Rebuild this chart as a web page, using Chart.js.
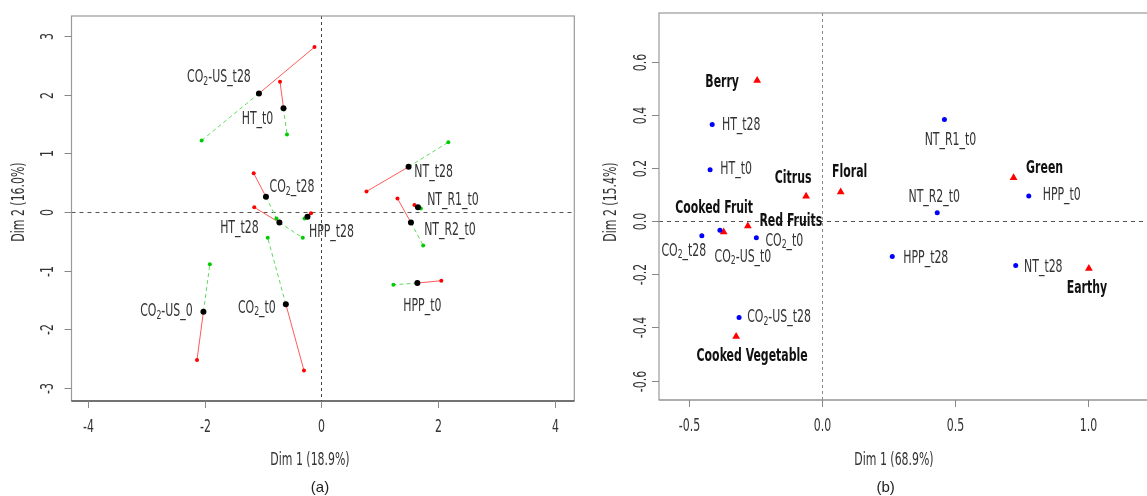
<!DOCTYPE html>
<html>
<head>
<meta charset="utf-8">
<script src="https://cdn.jsdelivr.net/npm/chart.js@4.4.1/dist/chart.umd.min.js"></script>
<style>
  html, body { margin: 0; padding: 0; background: #fff; overflow: hidden; width: 1147px; height: 496px; }
  canvas { position: absolute; top: 0; }
  #chartA { left: 0; }
  #chartB { left: 580px; }
</style>
</head>
<body>
<canvas id="chartA" width="580" height="496"></canvas>
<canvas id="chartB" width="600" height="496"></canvas>
<script>
// ---- panel (a): sample means with their two partial points ----
const samplesA = ["CO2-US_t28", "HT_t0", "NT_t28", "CO2_t28", "NT_R1_t0", "HT_t28", "HPP_t28", "NT_R2_t0", "CO2-US_0", "CO2_t0", "HPP_t0"]
const meanX = [-1.07, -0.65, 1.49, -0.95, 1.65, -0.72, -0.24, 1.53, -2.02, -0.61, 1.64]
const meanY = [2.02, 1.77, 0.77, 0.26, 0.08, -0.18, -0.08, -0.18, -1.70, -1.57, -1.21]
const redX = [-0.12, -0.71, 0.77, -1.16, 1.59, -1.15, -0.18, 1.30, -2.13, -0.30, 2.05]
const redY = [2.81, 2.22, 0.35, 0.66, 0.12, 0.08, -0.02, 0.23, -2.52, -2.70, -1.17]
const greenX = [-2.05, -0.59, 2.17, -0.77, 1.70, -0.32, -0.29, 1.74, -1.91, -0.92, 1.23]
const greenY = [1.22, 1.32, 1.19, -0.11, 0.06, -0.44, -0.11, -0.57, -0.89, -0.44, -1.24]
const xTicksA = [-4, -2, 0, 2, 4]
const yTicksA = [-3, -2, -1, 0, 1, 2, 3]

// ---- panel (b): samples and attributes ----
const samplesB = ["HT_t28", "HT_t0", "NT_R1_t0", "NT_R2_t0", "HPP_t0", "CO2_t0", "CO2-US_t0", "CO2_t28", "HPP_t28", "NT_t28", "CO2-US_t28"]
const sampleX = [-0.411, -0.419, 0.462, 0.435, 0.779, -0.245, -0.382, -0.450, 0.266, 0.730, -0.310]
const sampleY = [0.363, 0.193, 0.382, 0.031, 0.094, -0.063, -0.035, -0.055, -0.133, -0.167, -0.363]
const attributes = ["Berry", "Citrus", "Floral", "Green", "Cooked Fruit", "Red Fruits", "Earthy", "Cooked Vegetable"]
const attrX = [-0.242, -0.058, 0.072, 0.722, -0.368, -0.277, 1.005, -0.321]
const attrY = [0.529, 0.093, 0.109, 0.163, -0.041, -0.019, -0.178, -0.434]
const xTicksB = ["-0.5", "0.0", "0.5", "1.0"]
const yTicksB = ["-0.6", "-0.4", "-0.2", "0.0", "0.2", "0.4", "0.6"]

// label placement (pixel offsets from the point, text centre)
const labelOffA = [[-40, -16], [-26, 11], [25, 6], [26, -9], [35, -7], [-40, 6], [24, 16], [39, 8], [-37, 0], [-29, 4], [5, 24]]
const labelOffB = [[29, 1], [26, 0], [6, 21], [-3, -15], [33, 0], [28, 3.5], [23, 27], [-18, 15.5], [33.5, 2], [27.6, 1.7], [40, 0]]
const attrOff = [[-35, 2.5], [-13, -17.5], [9, -19], [31, -9], [-9.5, -23], [43, -5], [-2, 20], [16, 20]]

const FAMILY = "'Liberation Sans Narrow', 'DejaVu Sans Condensed', 'DejaVu Sans', sans-serif"
const SQUEEZE = 0.715 // the original uses a very narrow face
const TEXT_COLOR = "#333"

// draws text centred at (x, y); a leading "CO2" gets a subscript 2
function drawLabel(ctx, text, x, y, size, bold, color) {
  const weight = bold ? "bold " : ""
  const main = weight + size + "px " + FAMILY
  const sub = weight + Math.round(size * 0.7) + "px " + FAMILY
  const parts = text.startsWith("CO2") ? [["CO", main, 0], ["2", sub, 4], [text.slice(3), main, 0]] : [[text, main, 0]]
  let total = 0
  parts.forEach((p) => {
    ctx.font = p[1]
    total += ctx.measureText(p[0]).width
  })
  ctx.save()
  ctx.translate(x, y)
  ctx.scale(SQUEEZE, 1)
  let cx = -total / 2
  ctx.fillStyle = color
  ctx.textAlign = "left"
  ctx.textBaseline = "middle"
  parts.forEach((p) => {
    ctx.font = p[1]
    ctx.fillText(p[0], cx, p[2])
    cx += ctx.measureText(p[0]).width
  })
  ctx.restore()
}

function makeFrame(opts) {
  return {
    id: "frame" + opts.name,
    beforeDatasetsDraw(chart) {
      const { ctx, chartArea: a, scales } = chart
      const x0 = scales.x.getPixelForValue(0)
      const y0 = scales.y.getPixelForValue(0)
      ctx.save()
      ctx.lineWidth = 1
      ctx.strokeStyle = "#555"
      ctx.setLineDash([4, 4])
      ctx.beginPath()
      ctx.moveTo(a.left, Math.round(y0) + 0.5)
      ctx.lineTo(a.right, Math.round(y0) + 0.5)
      ctx.stroke()
      ctx.strokeStyle = opts.vColor
      ctx.setLineDash([3, 3])
      ctx.beginPath()
      ctx.moveTo(Math.round(x0) + 0.5, a.top)
      ctx.lineTo(Math.round(x0) + 0.5, a.bottom)
      ctx.stroke()
      ctx.restore()
    },
    afterDraw(chart) {
      const { ctx, chartArea: a, scales } = chart
      ctx.save()
      // box
      ctx.strokeStyle = "#999"
      ctx.lineWidth = 1.2
      ctx.strokeRect(a.left, a.top, a.right - a.left, a.bottom - a.top)
      ctx.strokeStyle = opts.bottomColor
      ctx.beginPath()
      ctx.moveTo(a.left, a.bottom)
      ctx.lineTo(a.right, a.bottom)
      ctx.stroke()
      // x ticks
      ctx.strokeStyle = "#888"
      ctx.lineWidth = 1
      opts.xTicks.forEach((t) => {
        const px = Math.round(scales.x.getPixelForValue(Number(t))) + 0.5
        ctx.beginPath()
        ctx.moveTo(px, a.bottom)
        ctx.lineTo(px, a.bottom + 7)
        ctx.stroke()
        drawLabel(ctx, String(t), px, a.bottom + 27, 17, false, TEXT_COLOR)
      })
      // y ticks, labels turned like R does
      opts.yTicks.forEach((t) => {
        const py = Math.round(scales.y.getPixelForValue(Number(t))) + 0.5
        ctx.beginPath()
        ctx.moveTo(a.left - 7, py)
        ctx.lineTo(a.left, py)
        ctx.stroke()
        ctx.save()
        ctx.translate(a.left - opts.yLabelGap, py)
        ctx.rotate(-Math.PI / 2)
        drawLabel(ctx, String(t), 0, 0, 17, false, TEXT_COLOR)
        ctx.restore()
      })
      // axis titles and caption
      drawLabel(ctx, opts.xTitle, opts.xTitlePos, 461, 17, false, TEXT_COLOR)
      ctx.save()
      ctx.translate(opts.yTitlePos, 202)
      ctx.rotate(-Math.PI / 2)
      drawLabel(ctx, opts.yTitle, 0, 0, 17, false, TEXT_COLOR)
      ctx.restore()
      ctx.font = "15px 'Liberation Sans', sans-serif"
      ctx.fillStyle = "#222"
      ctx.textAlign = "center"
      ctx.textBaseline = "middle"
      ctx.fillText(opts.caption, opts.captionPos, 488)
      // point labels
      opts.labels(ctx, scales)
      ctx.restore()
    },
  }
}

function baseOptions(xMin, xMax, yMin, yMax, padding) {
  return {
    responsive: false,
    animation: false,
    devicePixelRatio: 1,
    layout: { padding },
    plugins: { legend: { display: false }, tooltip: { enabled: false } },
    scales: {
      x: { type: "linear", min: xMin, max: xMax, display: false },
      y: { type: "linear", min: yMin, max: yMax, display: false },
    },
  }
}

// ---------- chart (a) ----------
const datasetsA = [
  {
    data: samplesA.map((s, i) => ({ x: meanX[i], y: meanY[i] })),
    pointRadius: 3,
    pointBackgroundColor: "#000",
    pointBorderWidth: 0,
    showLine: false,
    order: 0,
  },
]
samplesA.forEach((s, i) => {
  datasetsA.push({
    data: [{ x: meanX[i], y: meanY[i] }, { x: redX[i], y: redY[i] }],
    showLine: true,
    borderColor: "#ff5a5a",
    borderWidth: 1,
    pointRadius: [0, 2],
    pointBackgroundColor: "#ff0000",
    pointBorderWidth: 0,
    order: 1,
  })
  datasetsA.push({
    data: [{ x: meanX[i], y: meanY[i] }, { x: greenX[i], y: greenY[i] }],
    showLine: true,
    borderColor: "#5fdc5f",
    borderDash: [4, 3],
    borderWidth: 1,
    pointRadius: [0, 2],
    pointBackgroundColor: "#00cc00",
    pointBorderWidth: 0,
    order: 1,
  })
})

new Chart(document.getElementById("chartA"), {
  type: "scatter",
  data: { datasets: datasetsA },
  options: baseOptions(-4.277, 4.325, -3.22, 3.34, { left: 71.5, right: 5.7, top: 16, bottom: 95 }),
  plugins: [
    makeFrame({
      name: "A",
      vColor: "#444",
      bottomColor: "#222",
      xTicks: xTicksA,
      yTicks: yTicksA,
      yLabelGap: 22.5,
      xTitle: "Dim 1 (18.9%)",
      xTitlePos: 310,
      yTitle: "Dim 2 (16.0%)",
      yTitlePos: 20,
      caption: "(a)",
      captionPos: 320,
      labels(ctx, scales) {
        samplesA.forEach((s, i) => {
          const px = scales.x.getPixelForValue(meanX[i]) + labelOffA[i][0]
          const py = scales.y.getPixelForValue(meanY[i]) + labelOffA[i][1]
          drawLabel(ctx, s, px, py, 17, false, TEXT_COLOR)
        })
      },
    }),
  ],
})

// ---------- chart (b) ----------
new Chart(document.getElementById("chartB"), {
  type: "scatter",
  data: {
    datasets: [
      {
        data: samplesB.map((s, i) => ({ x: sampleX[i], y: sampleY[i] })),
        pointRadius: 2.5,
        pointBackgroundColor: "#0000ff",
        pointBorderWidth: 0,
      },
      {
        data: attributes.map((s, i) => ({ x: attrX[i], y: attrY[i] })),
        pointStyle: "triangle",
        pointRadius: 4.5,
        pointBackgroundColor: "#ff0000",
        pointBorderWidth: 0,
      },
    ],
  },
  options: baseOptions(-0.611, 1.31, -0.673, 0.7825, { left: 79, right: 10, top: 13, bottom: 96 }),
  plugins: [
    makeFrame({
      name: "B",
      vColor: "#888",
      bottomColor: "#999",
      xTicks: xTicksB,
      yTicks: yTicksB,
      yLabelGap: 17,
      xTitle: "Dim 1 (68.9%)",
      xTitlePos: 314,
      yTitle: "Dim 2 (15.4%)",
      yTitlePos: 31.7,
      caption: "(b)",
      captionPos: 305.6,
      labels(ctx, scales) {
        samplesB.forEach((s, i) => {
          const px = scales.x.getPixelForValue(sampleX[i]) + labelOffB[i][0]
          const py = scales.y.getPixelForValue(sampleY[i]) + labelOffB[i][1]
          drawLabel(ctx, s, px, py, 17, false, TEXT_COLOR)
        })
        attributes.forEach((s, i) => {
          const px = scales.x.getPixelForValue(attrX[i]) + attrOff[i][0]
          const py = scales.y.getPixelForValue(attrY[i]) + attrOff[i][1]
          drawLabel(ctx, s, px, py, 17, true, "#111")
        })
      },
    }),
  ],
})
</script>
</body>
</html>
